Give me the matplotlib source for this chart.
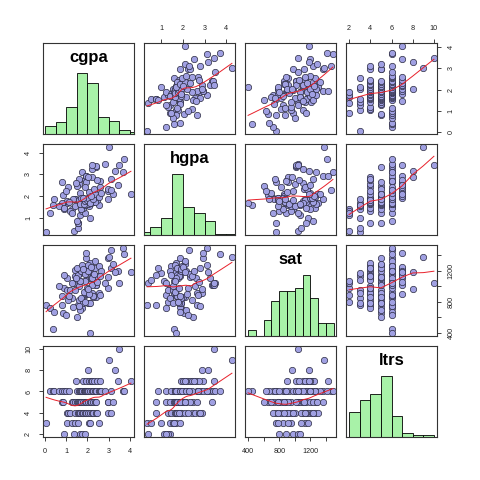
import numpy as np
import matplotlib
matplotlib.use("Agg")
import matplotlib.pyplot as plt

plt.rcParams['font.family'] = ['Liberation Sans', 'DejaVu Sans']

names = ["cgpa", "hgpa", "sat", "ltrs"]

# one row per student, grouped by ltrs value
cgpa = [0.88, 1.38, 1.64, 1.76, 1.87,
        0.05, 1.04, 1.29, 1.40, 1.56, 2.05, 2.10, 2.54,
        1.02, 1.06, 1.17, 1.40, 1.55, 1.58, 1.64, 1.72, 1.79, 1.87, 1.95, 2.03, 2.11, 2.20, 2.26, 2.39, 2.45, 2.96, 3.12,
        0.80, 0.86, 1.25, 1.30, 1.40, 1.51, 1.56, 1.60, 1.65, 1.71, 1.80, 1.87, 1.95, 2.03, 2.10, 2.18, 2.26, 2.34, 2.42, 2.95, 2.96, 3.20,
        0.23, 0.36, 0.44, 0.67, 0.78, 0.90, 1.01, 1.14, 1.52, 1.58, 1.64, 1.70, 1.76, 1.82, 1.87, 1.90, 1.95, 2.00, 2.03, 2.10, 2.20, 2.26, 2.35, 2.42, 2.55, 2.57, 2.65, 2.81, 3.12, 3.66, 3.74,
        1.45, 1.80, 1.95, 2.05, 2.15, 2.20, 2.30, 2.45, 2.60, 3.45, 4.05,
        2.02, 3.30,
        3.02,
        3.48]
hgpa = [1.39, 0.38, 1.15, 1.30, 1.20,
        0.35, 1.70, 1.39, 1.86, 0.53, 1.54, 1.00, 1.60,
        1.78, 2.43, 1.31, 1.85, 0.77, 2.58, 1.62, 1.90, 1.47, 2.74, 1.65, 1.93, 1.70, 2.89, 1.75, 2.09, 1.80, 2.24, 2.80,
        1.70, 2.05, 1.23, 1.86, 1.54, 2.47, 0.77, 1.80, 2.16, 1.39, 1.90, 1.60, 2.63, 1.65, 1.82, 1.70, 2.01, 1.75, 3.33, 1.85, 2.32, 2.10,
        1.23, 1.60, 1.88, 1.55, 2.63, 1.47, 2.24, 1.75, 0.85, 2.79, 1.62, 1.90, 3.10, 1.65, 2.40, 1.78, 2.94, 1.80, 1.93, 1.70, 3.25, 1.85, 2.09, 3.40, 1.95, 2.70, 2.15, 3.48, 2.30, 3.09, 3.72,
        2.60, 1.90, 2.94, 2.20, 2.00, 3.45, 2.32, 2.74, 2.40, 2.52, 2.09,
        2.86, 3.17,
        4.26,
        3.44]
sat = [976, 1041, 1062, 802, 889,
       760, 954, 846, 1126, 1083, 780, 1170, 911,
       1100, 824, 954, 1213, 760, 997, 1170, 720, 1256, 900, 1083, 781, 1300, 911, 1150, 867, 1126, 980, 1240,
       880, 651, 1040, 737, 954, 607, 1148, 824, 694, 1191, 781, 1062, 911, 1278, 790, 1105, 867, 1235, 1018, 1365, 1120, 1290,
       716, 456, 672, 1000, 759, 1148, 629, 880, 1235, 740, 1062, 846, 1278, 932, 1160, 802, 1365, 975, 1200, 400, 1105, 870, 1321, 1018, 1260, 889, 1191, 1040, 1465, 1490, 1420,
       1100, 1222, 1421, 902, 1250, 1010, 1160, 1050, 1135, 1200, 1178,
       963, 1183,
       1378,
       1041]
ltrs = [2, 2, 2, 2, 2,
        3, 3, 3, 3, 3, 3, 3, 3,
        4, 4, 4, 4, 4, 4, 4, 4, 4, 4, 4, 4, 4, 4, 4, 4, 4, 4, 4,
        5, 5, 5, 5, 5, 5, 5, 5, 5, 5, 5, 5, 5, 5, 5, 5, 5, 5, 5, 5, 5, 5,
        6, 6, 6, 6, 6, 6, 6, 6, 6, 6, 6, 6, 6, 6, 6, 6, 6, 6, 6, 6, 6, 6, 6, 6, 6, 6, 6, 6, 6, 6, 6,
        7, 7, 7, 7, 7, 7, 7, 7, 7, 7, 7,
        8, 8,
        9,
        10]

data = [np.array(cgpa, float), np.array(hgpa, float), np.array(sat, float), np.array(ltrs, float)]

hist_breaks = [np.arange(0, 4.51, 0.5), np.arange(0, 4.51, 0.5),
               np.arange(400, 1501, 100), np.arange(2, 10.1, 1)]
tick_pos = [[0, 1, 2, 3, 4], [1, 2, 3, 4],
            [400, 600, 800, 1000, 1200, 1400], [2, 4, 6, 8, 10]]
tick_lab = [["0", "1", "2", "3", "4"], ["1", "2", "3", "4"],
            ["400", "", "800", "", "1200", ""], ["2", "4", "6", "8", "10"]]


# lowess as in R (f = 2/3, 3 robustness iterations)
def lowess(x, y, f=2/3, iters=3):
    o = np.argsort(x, kind="stable")
    x = x[o]
    y = y[o]
    n = len(x)
    ns = max(min(int(f * n + 1e-7), n), 2)
    rw = np.ones(n)
    ys = np.zeros(n)
    rng = x[-1] - x[0]
    for it in range(iters + 1):
        nleft, nright = 0, ns - 1
        for i in range(n):
            while nright < n - 1 and x[i] - x[nleft] > x[nright + 1] - x[i]:
                nleft += 1
                nright += 1
            if i > 0 and x[i] == x[i - 1]:
                ys[i] = ys[i - 1]
                continue
            h = max(x[i] - x[nleft], x[nright] - x[i])
            d = np.abs(x - x[i])
            w = np.zeros(n)
            m = d <= 0.999 * h
            w[m] = np.where(d[m] <= 0.001 * h, 1.0, (1 - (d[m] / h) ** 3) ** 3)
            w *= rw
            if w.sum() <= 0:
                ys[i] = y[i]
                continue
            w /= w.sum()
            if h > 0:
                a = (w * x).sum()
                c = (w * (x - a) ** 2).sum()
                if np.sqrt(c) > 0.001 * rng:
                    b = (x[i] - a) / c
                    w = w * (b * (x - a) + 1)
            ys[i] = (w * y).sum()
        if it == iters:
            break
        res = np.abs(y - ys)
        cmad = 6 * np.median(res)
        if cmad < 1e-7:
            break
        r = res / cmad
        rw = np.where(r < 0.999, (1 - r ** 2) ** 2, 0.0)
        rw[r <= 0.001] = 1.0
    return x, ys


def limits(v):
    r = v.max() - v.min()
    return v.min() - 0.04 * r, v.max() + 0.04 * r


fig = plt.figure(figsize=(4.8, 4.8), dpi=100)
left0 = 42.7 / 480
size = 91.6 / 480
step = 101 / 480

for i in range(4):
    for j in range(4):
        ax = fig.add_axes([left0 + j * step, 1 - (42.7 + i * step * 480 + 91.6) / 480, size, size])
        for s in ax.spines.values():
            s.set_linewidth(0.8)
            s.set_color("#333333")
        ax.set_xticks([])
        ax.set_yticks([])
        ax.set_xlim(limits(data[j]))
        if i == j:
            v = data[i]
            br = hist_breaks[i]
            idx = np.clip(np.searchsorted(br, v, side="left") - 1, 0, len(br) - 2)
            counts = np.bincount(idx, minlength=len(br) - 1)
            ax.bar(br[:-1], counts / counts.max(), width=np.diff(br), align="edge",
                   color="#A8F2A8", edgecolor="black", linewidth=0.6)
            ax.set_ylim(0, 1.5)
            ax.text(0.5, 0.84, names[i], transform=ax.transAxes, ha="center", va="center",
                    fontsize=12, fontweight="bold")
        else:
            x = data[j]
            y = data[i]
            ax.set_ylim(limits(y))
            ax.scatter(x, y, s=21, facecolor="#A0A0E2", edgecolor="#2A2A40", linewidth=0.5, zorder=2)
            lx, ly = lowess(x, y)
            ax.plot(lx, ly, color="#E8202A", linewidth=0.7, zorder=3)

        tp = dict(direction="out", length=3.1, width=0.6, labelsize=5.2, pad=4.5, colors="#222222")
        if i == 0 and j % 2 == 1:
            ax.xaxis.set_ticks_position("top")
            ax.set_xticks(tick_pos[j])
            ax.set_xticklabels(tick_lab[j])
            ax.tick_params(axis="x", **tp)
        if i == 3 and j % 2 == 0:
            ax.set_xticks(tick_pos[j])
            ax.set_xticklabels(tick_lab[j])
            ax.tick_params(axis="x", **tp)
        if j == 0 and i % 2 == 1:
            ax.set_yticks(tick_pos[i])
            ax.set_yticklabels(tick_lab[i], rotation=90, va="center")
            ax.tick_params(axis="y", **tp)
        if j == 3 and i % 2 == 0:
            ax.yaxis.set_ticks_position("right")
            ax.set_yticks(tick_pos[i])
            ax.set_yticklabels(tick_lab[i], rotation=90, va="center")
            ax.tick_params(axis="y", **tp)

fig.savefig("out.png", dpi=100, facecolor="white")
